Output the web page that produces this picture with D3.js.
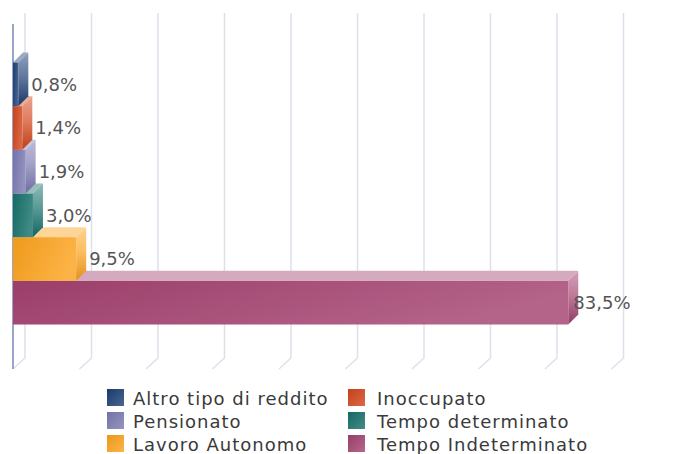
<!DOCTYPE html>
<html>
<head>
<meta charset="utf-8">
<script src="https://cdn.jsdelivr.net/npm/d3@7"></script>
<style>
  body { margin: 0; background: #fff; }
  svg { display: block; font-family: "DejaVu Sans", sans-serif; }
</style>
</head>
<body>
<svg id="chart" width="682" height="454"></svg>
<script>
var width = 682;
var height = 454;

// DATA
var series = ["Altro tipo di reddito", "Inoccupato", "Pensionato", "Tempo determinato", "Lavoro Autonomo", "Tempo Indeterminato"];
var values = [0.8, 1.4, 1.9, 3.0, 9.5, 83.5];
var labels = ["0,8%", "1,4%", "1,9%", "3,0%", "9,5%", "83,5%"];
var colors = ["#1d3f74", "#d2451b", "#7b79b0", "#16706a", "#fba21c", "#a3416f"];
var ticks = [0, 10, 20, 30, 40, 50, 60, 70, 80, 90];

// 3D depth of the plot walls and of the bars
var DX = 12, DY = 11;
var BX = 10, BY = 10;

const svg = d3.select("#chart");

// SCALES
var x = d3.scaleLinear()
    .domain([0, 100])
    .range([13, 678]);

var y = d3.scaleBand()
    .domain(series)
    .range([21, 366])
    .paddingOuter(0.95)
    .paddingInner(0);

var plotTop = 24, plotBottom = 369;

// GRADIENTS
var defs = svg.append("defs");
var light = (c, t) => d3.interpolateRgb(c, "#ffffff")(t);

series.forEach((s, i) => {
    var c = colors[i];
    var front = defs.append("linearGradient").attr("id", "front" + i)
        .attr("x1", 0).attr("y1", 0).attr("x2", 1).attr("y2", 0.3);
    front.append("stop").attr("offset", 0).attr("stop-color", d3.color(c).darker(0.15));
    front.append("stop").attr("offset", 1).attr("stop-color", light(c, 0.18));

    var side = defs.append("linearGradient").attr("id", "side" + i)
        .attr("x1", 0).attr("y1", 0).attr("x2", 0).attr("y2", 1);
    side.append("stop").attr("offset", 0).attr("stop-color", light(c, 0.5));
    side.append("stop").attr("offset", 0.45).attr("stop-color", light(c, 0.3));
    side.append("stop").attr("offset", 1).attr("stop-color", d3.color(c).darker(0.3));

    var sw = defs.append("linearGradient").attr("id", "sw" + i)
        .attr("x1", 0).attr("y1", 0).attr("x2", 1).attr("y2", 1);
    sw.append("stop").attr("offset", 0).attr("stop-color", d3.color(c).darker(0.2));
    sw.append("stop").attr("offset", 1).attr("stop-color", light(c, 0.2));
});

// GRIDLINES (back wall + floor edge)
svg.append("g")
    .selectAll("path")
    .data(ticks)
    .join("path")
    .attr("d", d => {
        var bx = x(d) + DX;
        return "M" + bx + "," + (plotTop - DY) + "L" + bx + "," + (plotBottom - DY) + "L" + x(d) + "," + plotBottom;
    })
    .attr("fill", "none")
    .attr("stroke", "#dfe0ec")
    .attr("stroke-width", 1.5);

// front axis
svg.append("line")
    .attr("x1", x(0)).attr("x2", x(0))
    .attr("y1", plotTop).attr("y2", plotBottom)
    .attr("stroke", "#9aa6c9")
    .attr("stroke-width", 2);

// BARS, drawn bottom-up so upper bars cover lower top faces
var bars = series.map((s, i) => ({ name: s, value: values[i], label: labels[i], i: i }));

var gBars = svg.append("g")
    .selectAll("g")
    .data(bars.slice().reverse())
    .join("g");

gBars.append("path")
    .attr("d", d => {
        var x0 = x(0), x1 = x(d.value), y0 = y(d.name);
        return "M" + x0 + "," + y0 + "L" + (x0 + BX) + "," + (y0 - BY) + "L" + (x1 + BX) + "," + (y0 - BY) + "L" + x1 + "," + y0 + "Z";
    })
    .attr("fill", d => light(colors[d.i], 0.55));

gBars.append("path")
    .attr("d", d => {
        var x1 = x(d.value), y0 = y(d.name), h = y.bandwidth();
        return "M" + x1 + "," + y0 + "L" + (x1 + BX) + "," + (y0 - BY) + "L" + (x1 + BX) + "," + (y0 + h - BY) + "L" + x1 + "," + (y0 + h) + "Z";
    })
    .attr("fill", d => "url(#side" + d.i + ")");

gBars.append("rect")
    .attr("x", x(0))
    .attr("y", d => y(d.name))
    .attr("width", d => x(d.value) - x(0))
    .attr("height", y.bandwidth())
    .attr("fill", d => "url(#front" + d.i + ")");

// VALUE LABELS
var valueLabels = svg.append("g")
    .selectAll("text")
    .data(bars)
    .join("text")
    .attr("y", d => y(d.name) + y.bandwidth() / 2)
    .attr("dy", "0.36em")
    .attr("font-size", 18)
    .attr("fill", "#555")
    .text(d => d.label);

// keep labels inside the plot
valueLabels.attr("x", function (d) {
    var w = this.getComputedTextLength();
    return Math.min(x(d.value) + BX + 3, x(90) + DX + 7 - w);
});

// LEGEND
var legendX = [107, 348];
var legendTextX = [133, 377];
var legendY = [405, 428, 451];

var legend = svg.append("g")
    .selectAll("g")
    .data(bars)
    .join("g");

legend.append("rect")
    .attr("x", d => legendX[d.i % 2])
    .attr("y", d => legendY[Math.floor(d.i / 2)] - 16)
    .attr("width", 17)
    .attr("height", 17)
    .attr("fill", d => "url(#sw" + d.i + ")");

legend.append("text")
    .attr("x", d => legendTextX[d.i % 2])
    .attr("y", d => legendY[Math.floor(d.i / 2)])
    .attr("font-size", 18)
    .attr("letter-spacing", 1)
    .attr("fill", "#3a3a3a")
    .text(d => d.name);
</script>
</body>
</html>
